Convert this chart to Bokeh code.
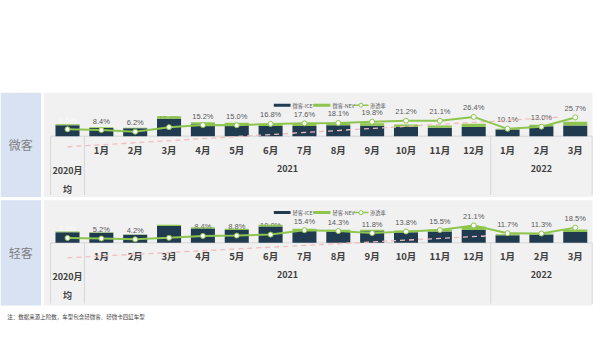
from bokeh.plotting import figure
from bokeh.models import Range1d, ColumnDataSource
from bokeh.core.properties import value
from bokeh.embed import file_html
from bokeh.resources import INLINE

# ---------------- data ----------------
month_labels = ["", "1月", "2月", "3月", "4月", "5月", "6月", "7月", "8月",
                "9月", "10月", "11月", "12月", "1月", "2月", "3月"]
group_labels = ["2020月\n均", "2021", "2022"]
group_sizes = [1, 12, 3]

micro_ice = [5.43, 4.12, 3.99, 8.76, 5.94, 5.70, 5.16, 5.11, 5.49, 5.21, 4.61, 4.22, 4.56, 3.33, 4.96, 5.35]
micro_nev = [0.57, 0.38, 0.26, 1.24, 1.06, 1.00, 1.04, 1.09, 1.21, 1.29, 1.24, 1.13, 1.64, 0.37, 0.74, 1.85]
micro_rate = [9.5, 8.4, 6.2, 12.4, 15.2, 15.0, 16.8, 17.6, 18.1, 19.8, 21.2, 21.1, 26.4, 10.1, 13.0, 25.7]
micro_trend_x = [0, 14.5]
micro_trend = [-14.5, 26.0]

light_ice = [5.32, 5.02, 3.98, 8.45, 7.14, 6.38, 8.10, 5.92, 5.57, 5.73, 5.30, 5.62, 6.43, 3.80, 4.12, 5.42]
light_nev = [0.33, 0.28, 0.17, 0.55, 0.66, 0.62, 0.90, 1.08, 0.93, 0.77, 0.85, 1.03, 1.72, 0.50, 0.53, 1.23]
light_rate = [5.9, 5.2, 4.2, 6.1, 8.4, 8.8, 10.0, 15.4, 14.3, 11.8, 13.8, 15.5, 21.1, 11.7, 11.3, 18.5]
light_trend_x = [0, 12.4]
light_trend = [-18.3, 8.4]

footnote = "注：数据来源上险数，车型包含轻微客、轻微卡四缸车型"

# ---------------- layout / style ----------------
W, H = 600, 352
X0, STEP = 67.0, 33.85
NAVY = "#203a4f"
GREEN = "#8dc54f"
CJK = value("Noto Sans CJK SC")
LAT = value("Liberation Sans")

p = figure(width=W, height=H, output_backend="svg", toolbar_location=None,
           x_axis_type=None, y_axis_type=None, min_border=0,
           x_range=Range1d(-X0 / STEP, (W - X0) / STEP),
           y_range=Range1d(H, 0))
p.outline_line_color = None
p.grid.visible = False
p.background_fill_color = "white"
p.border_fill_color = "white"
p.extra_x_ranges = {"px": Range1d(0, W)}

idx = list(range(len(month_labels)))
bounds = [-0.5]
for s in group_sizes:
    bounds.append(bounds[-1] + s)
centers = [(bounds[i] + bounds[i + 1]) / 2 for i in range(len(group_sizes))]


def panel(key, title, ice, nev, rate, tx, ty, legend_prefix,
          top, bottom, base, vppu, rppu):
    vr, rr = "v" + key, "r" + key
    p.extra_y_ranges[vr] = Range1d((base - H) / vppu, base / vppu)
    p.extra_y_ranges[rr] = Range1d((base - H) / rppu, base / rppu)

    # backgrounds
    p.quad(left=[0], right=[40.5], top=[top], bottom=[bottom], x_range_name="px",
           fill_color="#d9e2f3", line_color=None)
    p.quad(left=[43.3], right=[592], top=[top], bottom=[bottom], x_range_name="px",
           fill_color="#f1f1f1", line_color=None)
    p.text(x=[20.3], y=[(top + bottom) / 2], text=[title], x_range_name="px",
           text_font=CJK, text_font_size="12px", text_color="#7f7f7f",
           text_align="center", text_baseline="middle")

    # category frame
    p.segment(x0=[bounds[0]], x1=[bounds[-1]], y0=[base], y1=[base],
              line_color="#d6d6d6", line_width=1)
    p.segment(x0=bounds, x1=bounds, y0=[base] * len(bounds),
              y1=[bottom - 2] * len(bounds), line_color="#d6d6d6", line_width=1)
    p.text(x=idx, y=[base + 13.6] * len(idx), text=month_labels,
           text_font=CJK, text_font_style="bold", text_font_size="9.5px",
           text_color="#404040", text_align="center", text_baseline="middle")
    gy = [base + 43.5 if "\n" in g else base + 32 for g in group_labels]
    p.text(x=centers, y=gy, text=group_labels, text_font=CJK,
           text_font_style="bold", text_font_size="9px", text_color="#404040",
           text_align="center", text_baseline="middle", text_line_height=1.45)

    # rate labels (beneath bars)
    lab_colors = ["#fafafa"] + ["#595959"] * (len(rate) - 1)
    p.text(x=idx, y=rate, text=[f"{v:.1f}%" for v in rate], y_range_name=rr,
           text_font=LAT, text_font_size="7.5px", text_color=lab_colors,
           text_align="center", text_baseline="middle", y_offset=-9)

    # bars
    src = ColumnDataSource(dict(x=idx, ice=ice, nev=nev))
    p.vbar_stack(["ice", "nev"], x="x", width=0.71, source=src,
                 color=[NAVY, GREEN], line_color=None, y_range_name=vr)

    # trend
    p.line(tx, ty, y_range_name=rr, line_color="#f3bcbc", line_width=1.3,
           line_dash="5 4")

    # rate line
    p.line(idx, rate, y_range_name=rr, line_color=GREEN, line_width=2)
    p.scatter(idx, rate, y_range_name=rr, size=5, marker="circle",
              fill_color="white", line_color=GREEN, line_width=1)

    # legend
    ly = top + 12.4
    p.rect(x=[281.7, 321.3], y=[ly, ly], width=[16.7, 17.3], height=[3, 3],
           x_range_name="px", fill_color=[NAVY, GREEN], line_color=None)
    p.segment(x0=[353], x1=[368], y0=[ly], y1=[ly], x_range_name="px",
              line_color=GREEN, line_width=1.5)
    p.scatter(x=[360.5], y=[ly], x_range_name="px", size=4, marker="circle",
              fill_color="white", line_color=GREEN, line_width=1)
    p.text(x=[292, 332, 369.5], y=[ly] * 3,
           text=[legend_prefix + "-ICE", legend_prefix + "-NEV", "渗透率"],
           x_range_name="px", text_font=CJK, text_font_size="5.2px",
           text_color="#595959", text_align="left", text_baseline="middle")


panel("1", "微客", micro_ice, micro_nev, micro_rate, micro_trend_x, micro_trend,
      "微客", 92.3, 196.5, 135.7, 2.0, 0.73)
panel("2", "轻客", light_ice, light_nev, light_rate, light_trend_x, light_trend,
      "轻客", 199.7, 305.0, 242.3, 2.0, 0.82)

p.text(x=[6.7], y=[316.7], text=[footnote], x_range_name="px", text_font=CJK,
       text_font_size="5.5px", text_color="#404040", text_align="left",
       text_baseline="middle")

open("out.html", "w").write(file_html(p, INLINE))
